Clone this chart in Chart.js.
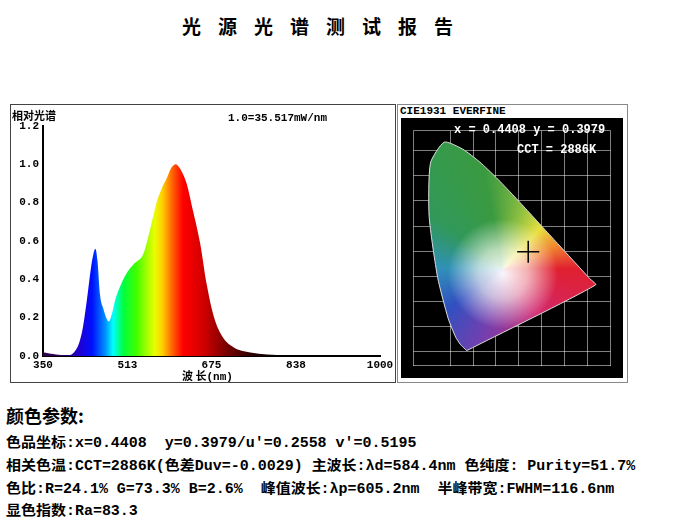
<!DOCTYPE html>
<html lang="zh">
<head>
<meta charset="UTF-8">
<title>光源光谱测试报告</title>
<script src="https://cdn.jsdelivr.net/npm/chart.js"></script>
<style>
  body { margin:0; width:682px; height:520px; background:#fff; position:relative; font-family:"Liberation Mono","Noto Sans CJK SC",monospace; }
  .t { position:absolute; font-weight:bold; white-space:pre; color:#000; }
  .p { font-size:14px; transform:scaleX(1.07); transform-origin:left; }
  #specBox { position:absolute; left:10px; top:104px; width:384px; height:277px; border:1px solid #444; }
  #cieBox { position:absolute; left:397px; top:104px; width:229px; height:277px; border:1px solid #888; background:#fff; }
  #cieWrap { position:absolute; left:3px; top:13px; width:222px; height:260px; background:#000; }
</style>
</head>
<body>
<div class="t" style="left:182px;top:12px;font-size:19px;letter-spacing:17px;font-family:'Noto Sans CJK SC'">光源光谱测试报告</div>

<div id="specBox"><canvas id="spec"></canvas></div>
<div class="t" style="left:12px;top:107px;font-size:11px;font-family:'Noto Sans CJK SC'">相对光谱</div>
<div class="t" style="left:228px;top:112px;font-size:11px">1.0=35.517mW/nm</div>
<div class="t" style="left:182px;top:367px;font-size:11px"><span style="font-family:'Noto Sans CJK SC'">波 长</span>(nm)</div>

<div id="cieBox"><div id="cieWrap"><canvas id="cie"></canvas></div></div>
<div class="t" style="left:398px;top:105px;font-size:11px;background:#fff;padding:0 2px">CIE1931 EVERFINE</div>
<div class="t" style="left:454px;top:123px;font-size:12px;color:#fff">x = 0.4408 y = 0.3979</div>
<div class="t" style="left:517px;top:143px;font-size:12px;color:#fff">CCT = 2886K</div>

<div class="t" style="left:6px;top:402px;font-size:18px;font-family:'Noto Sans CJK SC'">颜色参数:</div>
<div class="t p" style="left:6px;top:431px">色品坐标:x=0.4408  y=0.3979/u'=0.2558 v'=0.5195</div>
<div class="t p" style="left:6px;top:454px">相关色温:CCT=2886K(色差Duv=-0.0029) 主波长:λd=584.4nm 色纯度: Purity=51.7%</div>
<div class="t p" style="left:6px;top:477px">色比:R=24.1% G=73.3% B=2.6%  峰值波长:λp=605.2nm  半峰带宽:FWHM=116.6nm</div>
<div class="t p" style="left:6px;top:499px">显色指数:Ra=83.3</div>

<script>
// relative spectrum
const wavelengths = [350,360,370,380,390,400,410,420,427,435,442,447,451,455,460,466,472,477,483,490,500,511,525,543,550,560,569,580,589,597,602,606,611,618,627,640,653,666,679,692,705,718,730,750,782,820,860,1000];
const relPower    = [0.02,0.015,0.01,0.006,0.004,0.005,0.02,0.07,0.15,0.30,0.45,0.53,0.56,0.50,0.32,0.25,0.20,0.18,0.22,0.30,0.37,0.43,0.48,0.53,0.59,0.70,0.80,0.88,0.93,0.98,0.995,1.0,0.99,0.96,0.90,0.75,0.59,0.37,0.21,0.12,0.07,0.045,0.03,0.018,0.008,0.003,0,0];
const xTicks = [350,513,675,838,1000];

// CIE 1931 spectral locus (x, y)
const locusX = [0.1741,0.1738,0.1721,0.1644,0.1440,0.1241,0.0913,0.0454,0.0082,0.0139,0.0743,0.1547,0.2296,0.3016,0.3731,0.4441,0.5125,0.5752,0.6270,0.6658,0.6915,0.7079,0.7347,0.1741];
const locusY = [0.0050,0.0049,0.0048,0.0109,0.0297,0.0578,0.1327,0.2950,0.5384,0.7502,0.8338,0.8059,0.7543,0.6923,0.6245,0.5547,0.4866,0.4242,0.3725,0.3340,0.3083,0.2920,0.2653,0.0050];
const sampleX = 0.4408, sampleY = 0.3979;

const specColors = [[380,'#300050'],[420,'#2000d0'],[445,'#0010ff'],[470,'#0090ff'],[485,'#00ffff'],[505,'#00ff40'],[530,'#40ff00'],[565,'#e8ff00'],[580,'#ffd000'],[600,'#ff6000'],[620,'#ff0000'],[660,'#d00000'],[700,'#800000'],[760,'#200000'],[800,'#000000']];

const mono = { family:'Liberation Mono', weight:'bold', size:11 };

new Chart(document.getElementById('spec'), {
  type:'line',
  data:{ datasets:[{
    data: wavelengths.map((w,i)=>({x:w,y:relPower[i]})),
    borderWidth:0, pointRadius:0, cubicInterpolationMode:'monotone', fill:'origin',
    backgroundColor(ctx){
      const c = ctx.chart, a = c.chartArea;
      if(!a) return '#f00';
      const sx = c.scales.x;
      const g = c.ctx.createLinearGradient(sx.getPixelForValue(350),0,sx.getPixelForValue(1000),0);
      specColors.forEach(([w,col])=>g.addColorStop((w-350)/650,col));
      return g;
    }
  }]},
  options:{
    responsive:true, maintainAspectRatio:false, animation:false,
    layout:{ padding:{ left:0, right:15, top:21, bottom:0 } },
    plugins:{ legend:{display:false}, tooltip:{enabled:false} },
    scales:{
      x:{ type:'linear', min:350, max:1000,
        afterBuildTicks(s){ s.ticks = xTicks.map(v=>({value:v})); },
        afterFit(s){ s.height = 26; },
        grid:{ display:false, drawTicks:true, tickLength:3 },
        border:{ color:'#000', width:2 },
        ticks:{ color:'#000', font:mono, maxRotation:0, padding:0, callback:v=>String(v) } },
      y:{ min:0, max:1.2,
        afterFit(s){ s.width = 32; },
        grid:{ display:false, tickLength:3 },
        border:{ color:'#000', width:2 },
        ticks:{ stepSize:0.2, color:'#000', font:mono, padding:1, callback:v=>v.toFixed(1) } }
    }
  }
});

const locus = locusX.map((x,i)=>({x, y:locusY[i]}));
new Chart(document.getElementById('cie'), {
  type:'scatter',
  data:{ datasets:[
    { type:'scatter', data:[{x:sampleX,y:sampleY}], pointStyle:'cross', pointRadius:11, borderColor:'#000', backgroundColor:'#000', borderWidth:1.5, order:0 },
    { type:'line', data: locus, showLine:true, pointRadius:0, tension:0.2, order:2,
      borderColor:'#ddd', borderWidth:1, fill:'shape',
      backgroundColor(ctx){
        const c = ctx.chart, a = c.chartArea;
        if(!a) return '#888';
        const cx = c.scales.x.getPixelForValue(0.33), cy = c.scales.y.getPixelForValue(0.33);
        const g = c.ctx.createConicGradient(0,cx,cy);
        [[0,'#e02030'],[0.15,'#d02870'],[0.3,'#7040b0'],[0.4,'#3050c0'],[0.5,'#3090b8'],[0.6,'#30985a'],[0.72,'#3a9a40'],[0.8,'#90c040'],[0.87,'#e8e040'],[0.94,'#f08030'],[1,'#e02030']].forEach(s=>g.addColorStop(s[0],s[1]));
        return g;
      } },
    { type:'line', data: locus, showLine:true, borderWidth:0, borderColor:'rgba(0,0,0,0)', pointRadius:0, tension:0.2, fill:'shape', order:1,
      backgroundColor(ctx){
        const c = ctx.chart, a = c.chartArea;
        if(!a) return 'rgba(0,0,0,0)';
        const cx = c.scales.x.getPixelForValue(0.33), cy = c.scales.y.getPixelForValue(0.31);
        const g = c.ctx.createRadialGradient(cx,cy,0,cx,cy,55);
        g.addColorStop(0,'rgba(255,255,255,0.95)'); g.addColorStop(0.45,'rgba(255,255,245,0.65)'); g.addColorStop(1,'rgba(255,255,255,0)');
        return g;
      } }
  ]},
  options:{
    responsive:true, maintainAspectRatio:false, animation:false,
    plugins:{ legend:{display:false}, tooltip:{enabled:false} },
    scales:{
      x:{ min:-0.06, max:0.8, ticks:{display:false, stepSize:0.1}, grid:{color:'rgba(255,255,255,0.5)', tickLength:0}, border:{display:false} },
      y:{ min:-0.055, max:0.88, ticks:{display:false, stepSize:0.1}, grid:{color:'rgba(255,255,255,0.5)', tickLength:0}, border:{display:false} }
    }
  }
});
</script>
</body>
</html>
